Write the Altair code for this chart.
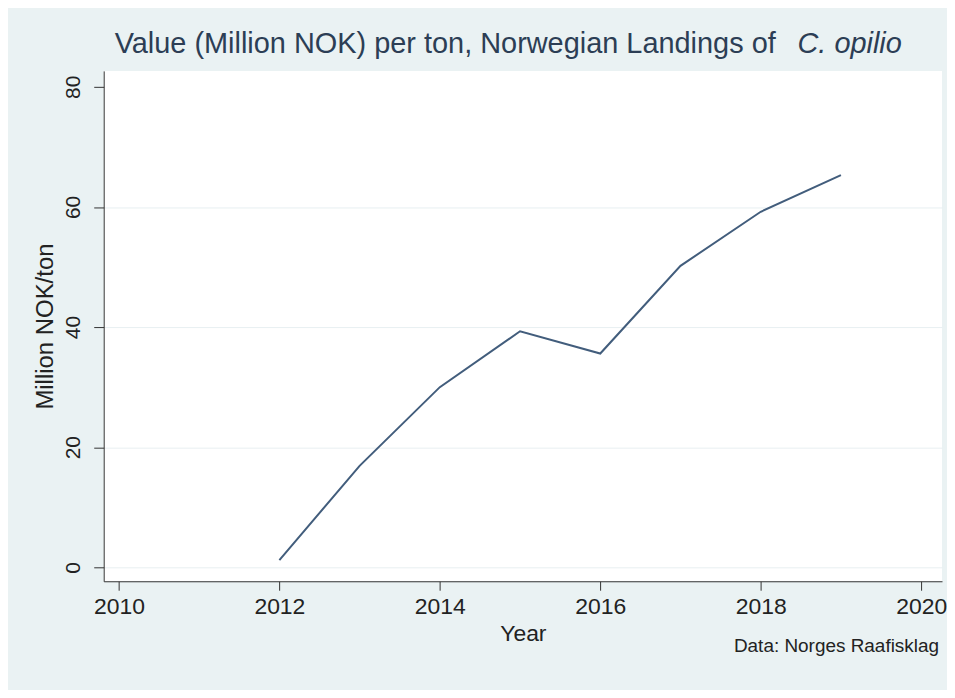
import altair as alt
import pandas as pd

years = [2012, 2013, 2014, 2015, 2016, 2017, 2018, 2019]
values = [1.2, 16.9, 30.0, 39.3, 35.6, 50.2, 59.2, 65.3]
x_ticks = [2010, 2012, 2014, 2016, 2018, 2020]
y_ticks = [0, 20, 40, 60, 80]

title_main = "Value (Million NOK) per ton, Norwegian Landings of"
title_italic = "C. opilio"
note = "Data: Norges Raafisklag"

df = pd.DataFrame({"Year": years, "Value": values})

W, H = 841, 512
FONT = "Liberation Sans"
TXT = "#222222"

base = alt.Chart(df)

line = base.mark_line(color="#425d7c", strokeWidth=2).encode(
    x=alt.X("Year:Q",
            scale=alt.Scale(domain=[2009.81, 2020.26], nice=False, zero=False),
            axis=alt.Axis(values=x_ticks, format="d", title="Year", grid=False,
                          labelFontSize=23, titleFontSize=23, tickSize=9,
                          labelBaseline="alphabetic", labelPadding=23,
                          titleBaseline="alphabetic", titleY=59, titleX=W / 2,
                          titleAlign="center",
                          labelFont=FONT, titleFont=FONT,
                          labelColor=TXT, titleColor=TXT,
                          domainColor="#333333", tickColor="#333333",
                          titleFontWeight="normal")),
    y=alt.Y("Value:Q",
            scale=alt.Scale(domain=[-2.32, 82.66], nice=False, zero=False),
            axis=alt.Axis(values=y_ticks, title="Million NOK/ton", grid=True,
                          gridColor="#e8eff1", gridWidth=1,
                          gridOpacity={"condition": {"test": "datum.value == 80", "value": 0}, "value": 1},
                          labelFontSize=21, titleFontSize=24, tickSize=10,
                          labelAngle=270, labelAlign="center", labelBaseline="alphabetic",
                          labelPadding=14,
                          titleAngle=270, titleAlign="center", titleBaseline="middle",
                          titleX=-58, titleY=H / 2,
                          labelFont=FONT, titleFont=FONT,
                          labelColor=TXT, titleColor=TXT,
                          domainColor="#333333", tickColor="#333333",
                          titleFontWeight="normal")),
)

t1 = alt.Chart(pd.DataFrame({"t": [title_main]})).mark_text(
    align="left", baseline="alphabetic", fontSize=29, font=FONT, color="#2c3e55"
).encode(x=alt.value(11), y=alt.value(-18), text="t:N")

t2 = alt.Chart(pd.DataFrame({"t": [title_italic]})).mark_text(
    align="left", baseline="alphabetic", fontSize=29, font=FONT, fontStyle="italic", color="#2c3e55"
).encode(x=alt.value(696), y=alt.value(-18), text="t:N")

t3 = alt.Chart(pd.DataFrame({"t": [note]})).mark_text(
    align="right", baseline="alphabetic", fontSize=19, font=FONT, color=TXT
).encode(x=alt.value(838), y=alt.value(583), text="t:N")

chart = alt.layer(line, t1, t2, t3).properties(
    width=W, height=H,
    autosize=alt.AutoSizeParams(type="none"),
    padding={"left": 96, "top": 62, "right": 5, "bottom": 108},
).configure(background="#eaf2f3").configure_view(fill="white", stroke=None)

chart.save("out.html", embed_options={"renderer": "svg", "actions": False})
